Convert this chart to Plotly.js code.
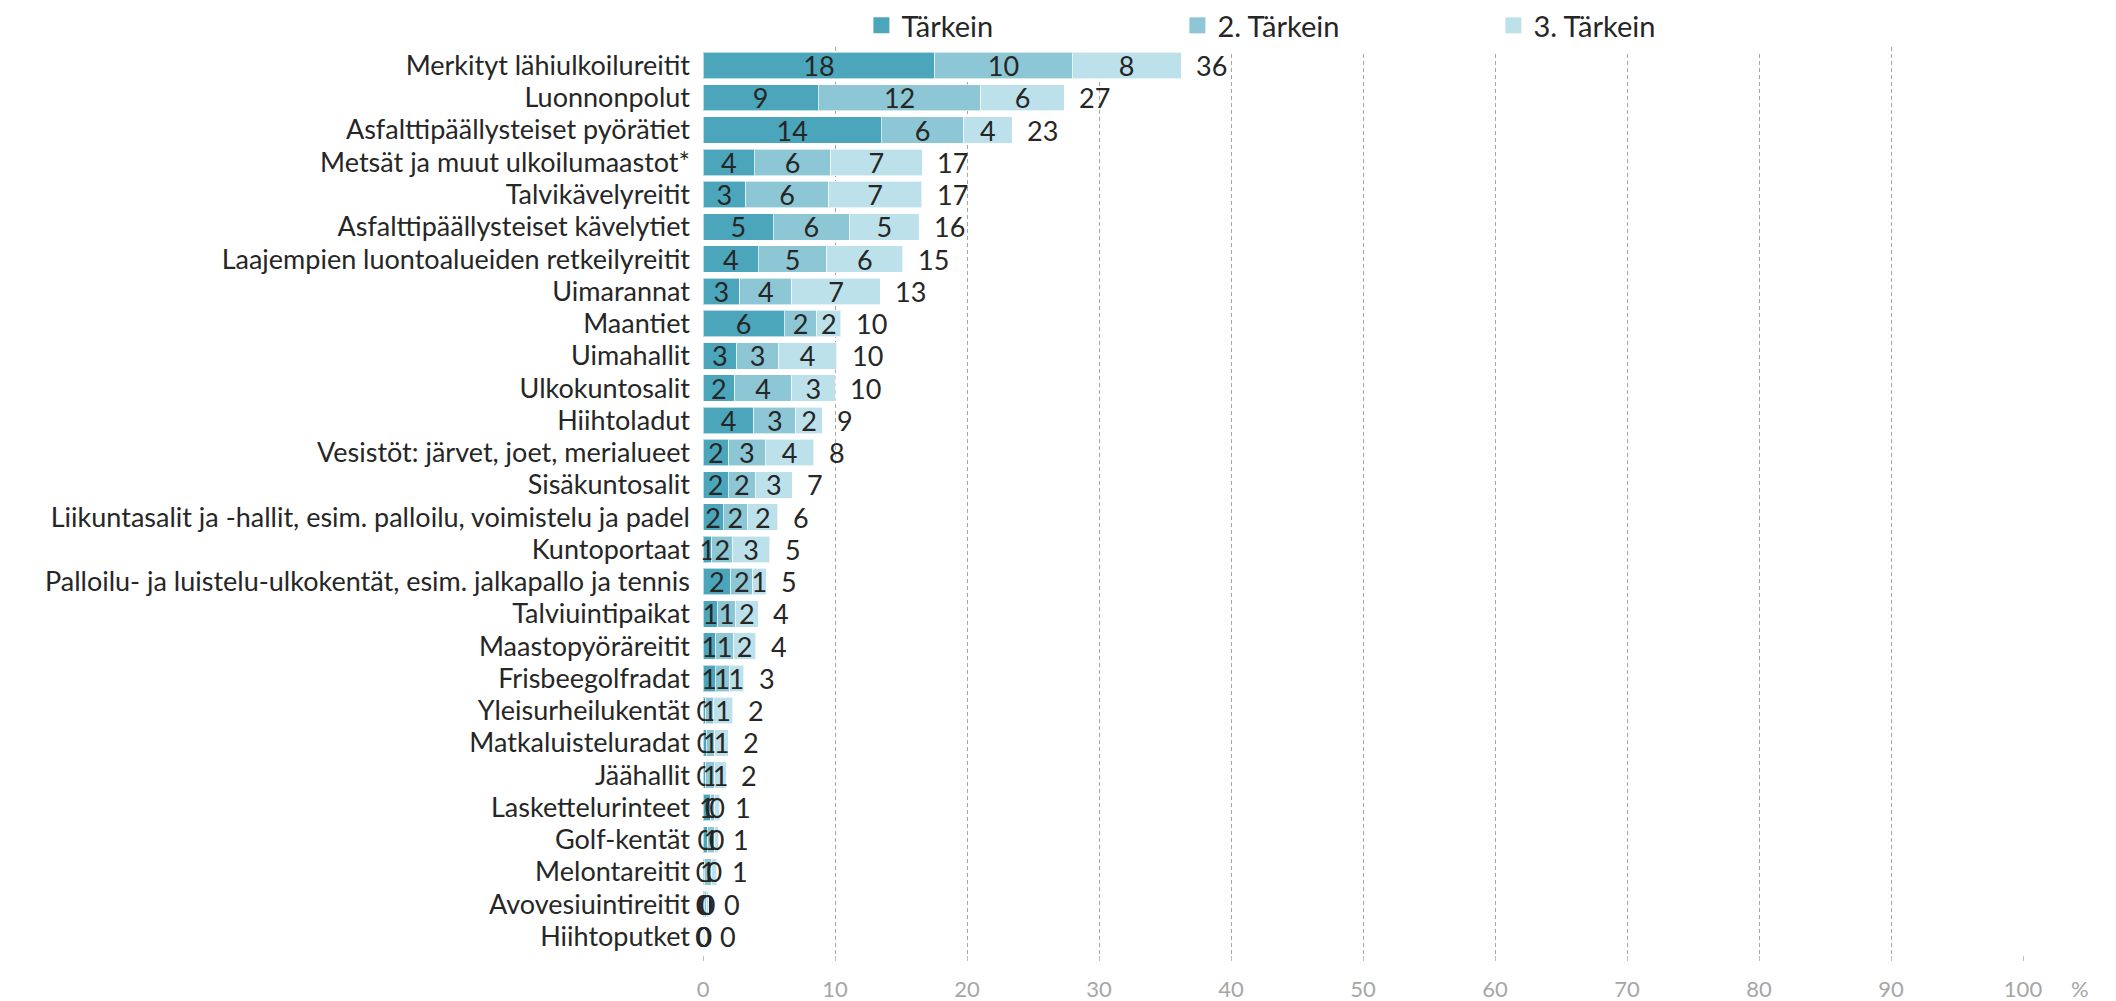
<!DOCTYPE html>
<html>
<head>
<meta charset="utf-8">
<script src="https://cdn.plot.ly/plotly-3.0.1.min.js"></script>
<style>
html,body{margin:0;padding:0;background:#fff;}
#chart{width:2116px;height:1001px;}
</style>
</head>
<body>
<div id="chart"></div>
<script>
const categories = [
  "Merkityt lähiulkoilureitit",
  "Luonnonpolut",
  "Asfalttipäällysteiset pyörätiet",
  "Metsät ja muut ulkoilumaastot*",
  "Talvikävelyreitit",
  "Asfalttipäällysteiset kävelytiet",
  "Laajempien luontoalueiden retkeilyreitit",
  "Uimarannat",
  "Maantiet",
  "Uimahallit",
  "Ulkokuntosalit",
  "Hiihtoladut",
  "Vesistöt: järvet, joet, merialueet",
  "Sisäkuntosalit",
  "Liikuntasalit ja -hallit, esim. palloilu, voimistelu ja padel",
  "Kuntoportaat",
  "Palloilu- ja luistelu-ulkokentät, esim. jalkapallo ja tennis",
  "Talviuintipaikat",
  "Maastopyöräreitit",
  "Frisbeegolfradat",
  "Yleisurheilukentät",
  "Matkaluisteluradat",
  "Jäähallit",
  "Laskettelurinteet",
  "Golf-kentät",
  "Melontareitit",
  "Avovesiuintireitit",
  "Hiihtoputket"
];
const tarkein  = [17.56, 8.73, 13.52, 3.90, 3.22, 5.34, 4.20, 2.79, 6.15, 2.55, 2.40, 3.86, 1.95, 1.92, 1.52, 0.66, 2.10, 1.11, 0.96, 0.91, 0.20, 0.25, 0.20, 0.58, 0.35, 0.10, 0.10, 0.02];
const tarkein2 = [10.40, 12.33, 6.23, 5.77, 6.29, 5.75, 5.18, 3.93, 2.47, 3.18, 4.32, 3.18, 2.75, 2.05, 1.87, 1.59, 1.67, 1.36, 1.36, 1.06, 0.60, 0.63, 0.70, 0.30, 0.55, 0.55, 0.15, 0.05];
const tarkein3 = [8.27, 6.29, 3.66, 6.94, 7.05, 5.31, 5.77, 6.72, 1.81, 4.39, 3.28, 1.99, 3.70, 2.78, 2.27, 2.80, 1.01, 1.70, 1.67, 1.11, 1.45, 1.04, 0.86, 0.38, 0.25, 0.40, 0.20, 0.08];
const seriesNames = ["Tärkein", "2. Tärkein", "3. Tärkein"];
const xTicks = [0, 10, 20, 30, 40, 50, 60, 70, 80, 90, 100];

const colors = ["#4BA6BC", "#8DC6D4", "#BDE1EA"];
const FONT = "Lato, 'Open Sans', sans-serif";
const TXT = "#262626";
const FS = 27;

const seriesData = [tarkein, tarkein2, tarkein3];
const traces = seriesData.map((vals, i) => ({
  type: "bar",
  orientation: "h",
  name: seriesNames[i],
  x: vals,
  y: categories,
  showlegend: false,
  marker: {color: colors[i], line: {color: "rgba(255,255,255,0.6)", width: 1}},
  texttemplate: "%{x:.0f}",
  textposition: "inside",
  insidetextanchor: "middle",
  textangle: 0,
  constraintext: "none",
  cliponaxis: false,
  textfont: {family: FONT, size: FS, color: TXT},
  hoverinfo: "skip"
}));
// legend entries with larger square swatches
seriesNames.forEach((nm, i) => {
  traces.push({
    type: "scatter", mode: "markers", name: nm,
    x: [null], y: [null],
    marker: {symbol: "square", size: 16, color: colors[i]},
    showlegend: true, hoverinfo: "skip"
  });
});

const totals = categories.map((c, k) => tarkein[k] + tarkein2[k] + tarkein3[k]);
const annotations = categories.map((c, k) => ({
  x: totals[k], y: c, xref: "x", yref: "y",
  text: String(Math.round(totals[k])),
  showarrow: false, xanchor: "left", xshift: 13,
  font: {family: FONT, size: FS, color: TXT}
}));
annotations.push({
  x: 1, xref: "paper", y: 0, yref: "paper",
  xanchor: "left", yanchor: "middle", xshift: 46, yshift: -33,
  text: "%", showarrow: false,
  font: {family: FONT, size: 22, color: "#A6A6A6"}
});

const H = 1001, MB = 46, MT = 0, PLOT_TOP = 47;
const paperH = H - MB - MT;

const layout = {
  width: 2116, height: H,
  margin: {l: 703, r: 93, t: MT, b: MB},
  paper_bgcolor: "#fff", plot_bgcolor: "#fff",
  barmode: "stack",
  bargap: 0.18,
  font: {family: FONT, color: TXT},
  uniformtext: {mode: "show", minsize: FS},
  showlegend: true,
  legend: {
    orientation: "h", x: 0.12, xanchor: "left", y: 1, yanchor: "top",
    font: {family: FONT, size: 29, color: TXT},
    entrywidth: 271, entrywidthmode: "pixels",
    itemsizing: "trace",
    traceorder: "normal", itemclick: false
  },
  xaxis: {
    range: [0, 100],
    tickvals: xTicks,
    ticktext: xTicks.map(String),
    showgrid: true, gridcolor: "#A6A6A6", gridwidth: 1, griddash: "4px,3px",
    zeroline: false, showline: false,
    ticks: "outside", ticklen: 5, tickcolor: "#BFBFBF",
    ticklabelstandoff: 10,
    tickfont: {family: FONT, size: 22, color: "#A6A6A6"},
    fixedrange: true
  },
  yaxis: {
    domain: [0, (paperH - PLOT_TOP) / paperH],
    autorange: "reversed",
    type: "category",
    tickmode: "array", tickvals: categories, ticktext: categories,
    showgrid: false, zeroline: false, showline: false,
    ticks: "", ticklabelstandoff: 12,
    tickfont: {family: FONT, size: FS, color: TXT},
    fixedrange: true
  },
  annotations: annotations
};

Plotly.newPlot("chart", traces, layout, {displayModeBar: false, staticPlot: true});
</script>
</body>
</html>
